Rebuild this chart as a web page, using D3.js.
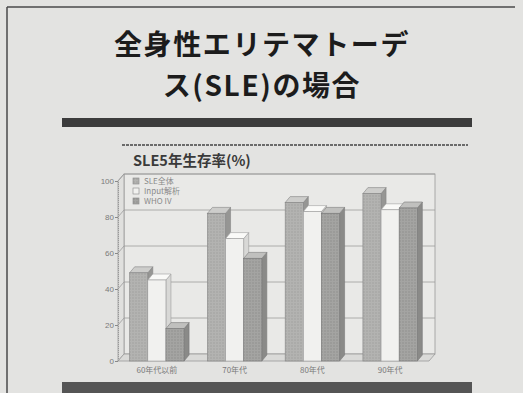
<!DOCTYPE html>
<html>
<head>
<meta charset="utf-8">
<script src="https://cdn.jsdelivr.net/npm/d3@7"></script>
<style>
  html, body { margin: 0; padding: 0; background: #e3e3e1; }
  svg { display: block; }
</style>
</head>
<body>
<svg id="chart" width="523" height="393"></svg>
<script>
// ---- data ----
const titleLines = ["全身性エリテマトーデ", "ス(SLE)の場合"];
const chartTitle = "SLE5年生存率(%)";
const categories = ["60年代以前", "70年代", "80年代", "90年代"];
const seriesNames = ["SLE全体", "Input解析", "WHO IV"];
const sleAll = [49, 82, 88, 93];
const inputAnalysis = [45, 68, 83, 84];
const whoIV = [18, 57, 82, 85];
const yTicks = [0, 20, 40, 60, 80, 100];

const seriesValues = [sleAll, inputAnalysis, whoIV];
const styles = [
  { front: "#b3b3b1", dot: "#9d9d9b", top: "#cdcdcb", side: "#969694", stroke: "#858585" },
  { front: "#f1f1ef", dot: null, top: "#fafaf8", side: "#d8d8d6", stroke: "#9d9d9d" },
  { front: "#a4a4a2", dot: "#8c8c8a", top: "#c0c0be", side: "#8a8a88", stroke: "#7a7a7a" }
];

const svg = d3.select("#chart");
const W = 523, H = 393;

svg.append("rect").attr("width", W).attr("height", H).attr("fill", "#e3e3e1");

// halftone patterns
const defs = svg.append("defs");
styles.forEach((st, i) => {
  if (!st.dot) return;
  const p = defs.append("pattern").attr("id", "p" + i).attr("width", 3).attr("height", 3)
    .attr("patternUnits", "userSpaceOnUse");
  p.append("rect").attr("width", 3).attr("height", 3).attr("fill", st.front);
  p.append("circle").attr("cx", 1).attr("cy", 1).attr("r", 0.7).attr("fill", st.dot);
});
const fillOf = i => styles[i].dot ? `url(#p${i})` : styles[i].front;

// frame
svg.append("line").attr("x1", 7).attr("y1", 7).attr("x2", 515).attr("y2", 7)
  .attr("stroke", "#4a4a4a").attr("stroke-width", 1.5);
svg.append("line").attr("x1", 7).attr("y1", 7).attr("x2", 7).attr("y2", H)
  .attr("stroke", "#4a4a4a").attr("stroke-width", 1.5);

// title
svg.selectAll("text.title").data(titleLines).join("text")
  .attr("class", "title")
  .attr("x", 262).attr("y", (d, i) => 55 + i * 41)
  .attr("text-anchor", "middle")
  .attr("font-family", "'Noto Sans CJK JP', sans-serif")
  .attr("font-weight", "bold").attr("font-size", 28)
  .attr("letter-spacing", 1.6)
  .attr("fill", "#1c1c1c")
  .text(d => d);

// thick bars
svg.append("rect").attr("x", 62).attr("y", 118).attr("width", 410).attr("height", 9).attr("fill", "#3c3c3c");
svg.append("rect").attr("x", 62).attr("y", 382).attr("width", 410).attr("height", 11).attr("fill", "#555555");

// chart title + dotted line
svg.append("line").attr("x1", 122).attr("y1", 145).attr("x2", 468).attr("y2", 145)
  .attr("stroke", "#444").attr("stroke-width", 1.3).attr("stroke-dasharray", "3,1");
svg.append("text").attr("x", 133).attr("y", 166)
  .attr("font-family", "'Noto Sans CJK JP', sans-serif").attr("font-weight", "bold")
  .attr("font-size", 14.5).attr("fill", "#3a3a3a").text(chartTitle);

// ---- plot geometry ----
const xL = 118, xR = 429;
const dx = 6, dy = -7;
const y = d3.scaleLinear().domain([0, 100]).range([361, 181]);
const x0 = d3.scaleBand().domain(categories).range([xL, xR]).paddingInner(0.3).paddingOuter(0.15);
const x1 = d3.scaleBand().domain(seriesNames).range([0, x0.bandwidth()]);

const g = svg.append("g");
const wallStroke = "#9a9a9a";

g.append("rect").attr("x", xL + dx).attr("y", y(100) + dy)
  .attr("width", xR - xL).attr("height", y(0) - y(100))
  .attr("fill", "#e9e9e7").attr("stroke", wallStroke).attr("stroke-width", 0.8);
g.append("polygon").attr("points", [
  [xL, y(100)], [xL + dx, y(100) + dy], [xL + dx, y(0) + dy], [xL, y(0)]
].map(p => p.join(",")).join(" ")).attr("fill", "#e0e0de").attr("stroke", wallStroke).attr("stroke-width", 0.8);
g.append("polygon").attr("points", [
  [xL, y(0)], [xR, y(0)], [xR + dx, y(0) + dy], [xL + dx, y(0) + dy]
].map(p => p.join(",")).join(" ")).attr("fill", "#dadad8").attr("stroke", wallStroke).attr("stroke-width", 0.8);

const grid = yTicks.filter(t => t > 0);
g.selectAll("line.grid").data(grid).join("line")
  .attr("x1", xL + dx).attr("x2", xR + dx)
  .attr("y1", d => y(d) + dy).attr("y2", d => y(d) + dy)
  .attr("stroke", "#9c9c9c").attr("stroke-width", 0.8);
g.selectAll("line.gridL").data(grid).join("line")
  .attr("x1", xL).attr("x2", xL + dx)
  .attr("y1", d => y(d)).attr("y2", d => y(d) + dy)
  .attr("stroke", "#9c9c9c").attr("stroke-width", 0.8);

// y axis
const yAxis = svg.append("g").attr("transform", `translate(${xL},0)`)
  .call(d3.axisLeft(y).tickValues(yTicks).tickSize(3).tickPadding(1));
yAxis.select(".domain").attr("stroke", "#999").attr("stroke-dasharray", "1,1");
yAxis.selectAll(".tick line").attr("stroke", "#888");
yAxis.selectAll("text").attr("font-family", "'Liberation Sans', Arial, sans-serif")
  .attr("font-size", 8).attr("fill", "#7a7a7a");

// bars
const bdx = 5, bdy = -6;
const bars = [];
categories.forEach((c, ci) => {
  seriesNames.forEach((s, si) => {
    bars.push({ c, s, si, v: seriesValues[si][ci] });
  });
});
const bw = x1.bandwidth();
g.selectAll("g.bar").data(bars).join("g").attr("class", "bar").each(function (d) {
  const gg = d3.select(this);
  const st = styles[d.si];
  const bx = x0(d.c) + x1(d.s);
  const top = y(d.v), base = y(0);
  gg.append("polygon").attr("points", [
    [bx + bw, top], [bx + bw + bdx, top + bdy], [bx + bw + bdx, base + bdy], [bx + bw, base]
  ].map(p => p.join(",")).join(" ")).attr("fill", st.side).attr("stroke", st.stroke).attr("stroke-width", 0.6);
  gg.append("polygon").attr("points", [
    [bx, top], [bx + bdx, top + bdy], [bx + bw + bdx, top + bdy], [bx + bw, top]
  ].map(p => p.join(",")).join(" ")).attr("fill", st.top).attr("stroke", st.stroke).attr("stroke-width", 0.6);
  gg.append("rect").attr("x", bx).attr("y", top).attr("width", bw).attr("height", base - top)
    .attr("fill", fillOf(d.si)).attr("stroke", st.stroke).attr("stroke-width", 0.6);
});

// x axis labels
const xAxis = svg.append("g").attr("transform", `translate(0,${y(0)})`)
  .call(d3.axisBottom(x0).tickSize(0).tickPadding(6));
xAxis.select(".domain").remove();
xAxis.selectAll("text").attr("font-family", "'Noto Sans CJK JP', sans-serif")
  .attr("font-size", 8).attr("fill", "#7a7a7a");

// legend
const leg = svg.append("g").attr("transform", "translate(133,178)");
const li = leg.selectAll("g").data(seriesNames).join("g")
  .attr("transform", (d, i) => `translate(0,${i * 10})`);
li.append("rect").attr("width", 6).attr("height", 6)
  .attr("fill", (d, i) => fillOf(i))
  .attr("stroke", "#888").attr("stroke-width", 0.6);
li.append("text").attr("x", 11).attr("y", 6)
  .attr("font-family", "'Noto Sans CJK JP', sans-serif").attr("font-size", 8)
  .attr("fill", "#8a8a8a").text(d => d);
</script>
</body>
</html>
